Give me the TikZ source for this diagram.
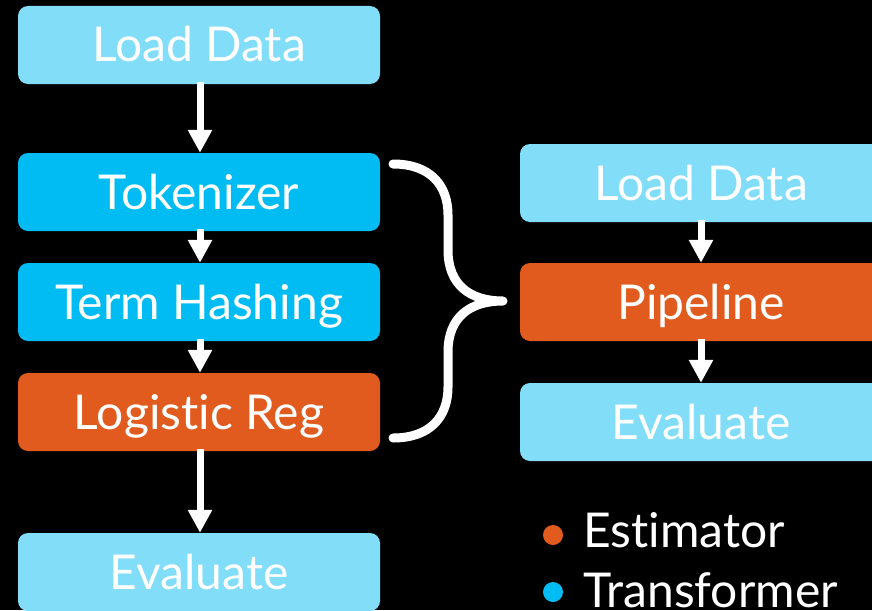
\documentclass[tikz,border=0pt]{standalone}
\usepackage{fontspec}
\setmainfont{Lato}[Ligatures=NoCommon]
\usetikzlibrary{arrows.meta}
\definecolor{lightblue}{RGB}{130,221,248}
\definecolor{azure}{RGB}{0,188,242}
\definecolor{msorange}{RGB}{225,91,31}
\tikzset{
  box/.style={rectangle, rounded corners=10pt, minimum width=362pt, minimum height=78pt,
    inner sep=0pt, text=white, font=\fontsize{48pt}{50pt}\selectfont,
    text height=34pt, text depth=0pt},
  loadbox/.style={box, fill=lightblue},
  transbox/.style={box, fill=azure},
  estbox/.style={box, fill=msorange},
  flow/.style={draw=white, line width=7pt, -{Triangle[width=23pt,length=23pt]}},
  bracestyle/.style={draw=white, line width=9pt, line cap=round, line join=round},
  bullet/.style={circle, minimum size=20pt, inner sep=0pt},
  legendtext/.style={text=white, font=\fontsize{48pt}{50pt}\selectfont, inner sep=0pt, anchor=base west}
}
\begin{document}
\begin{tikzpicture}[x=1pt, y=-1pt]
\useasboundingbox (0,0) rectangle (872,610);
\fill[black] (0,0) rectangle (872,610);
\clip (0,0) rectangle (872,610);
% left column
\node[loadbox]  (ld1) at (199,45)  {Load Data};
\node[transbox] (tok) at (199,192) {Tokenizer};
\node[transbox] (th)  at (199,302) {Term Hashing};
\node[estbox]   (lr)  at (199,412) {Logistic Reg};
\node[loadbox]  (ev1) at (199,572) {Evaluate};
% right column
\node[loadbox] (ld2) at (701,183) {Load Data};
\node[estbox]  (pl)  at (701,302) {Pipeline};
\node[loadbox] (ev2) at (701,422) {Evaluate};
% arrows
\draw[flow] ([xshift=1pt,yshift=2pt]ld1.south) -- ([xshift=1pt]tok.north);
\draw[flow] ([xshift=1pt,yshift=2pt]tok.south) -- ([xshift=1pt]th.north);
\draw[flow] ([xshift=1pt,yshift=2pt]th.south) -- ([xshift=1pt]lr.north);
\draw[flow] ([xshift=1pt,yshift=2pt]lr.south) -- ([xshift=1pt]ev1.north);
\draw[flow] ([yshift=2pt]ld2.south) -- (pl.north);
\draw[flow] ([yshift=2pt]pl.south) -- (ev2.north);
% brace
\coordinate (bt) at (393,164);
\coordinate (btip) at (503,301);
\coordinate (bb) at (393,438);
\draw[bracestyle] (bt) .. controls (430,164) and (448,185) .. (448,215) -- (448,250)
  .. controls (448,285) and (470,301) .. (btip)
  .. controls (470,301) and (448,317) .. (448,352) -- (448,387)
  .. controls (448,417) and (430,438) .. (bb);
% legend
\node[bullet, fill=msorange] (b1) at (553,535) {};
\node[bullet, fill=azure]    (b2) at (553,592) {};
\node[legendtext] (l1) at (583,547) {Estimator};
\node[legendtext] (l2) at (583,607) {Transformer};
\end{tikzpicture}
\end{document}
